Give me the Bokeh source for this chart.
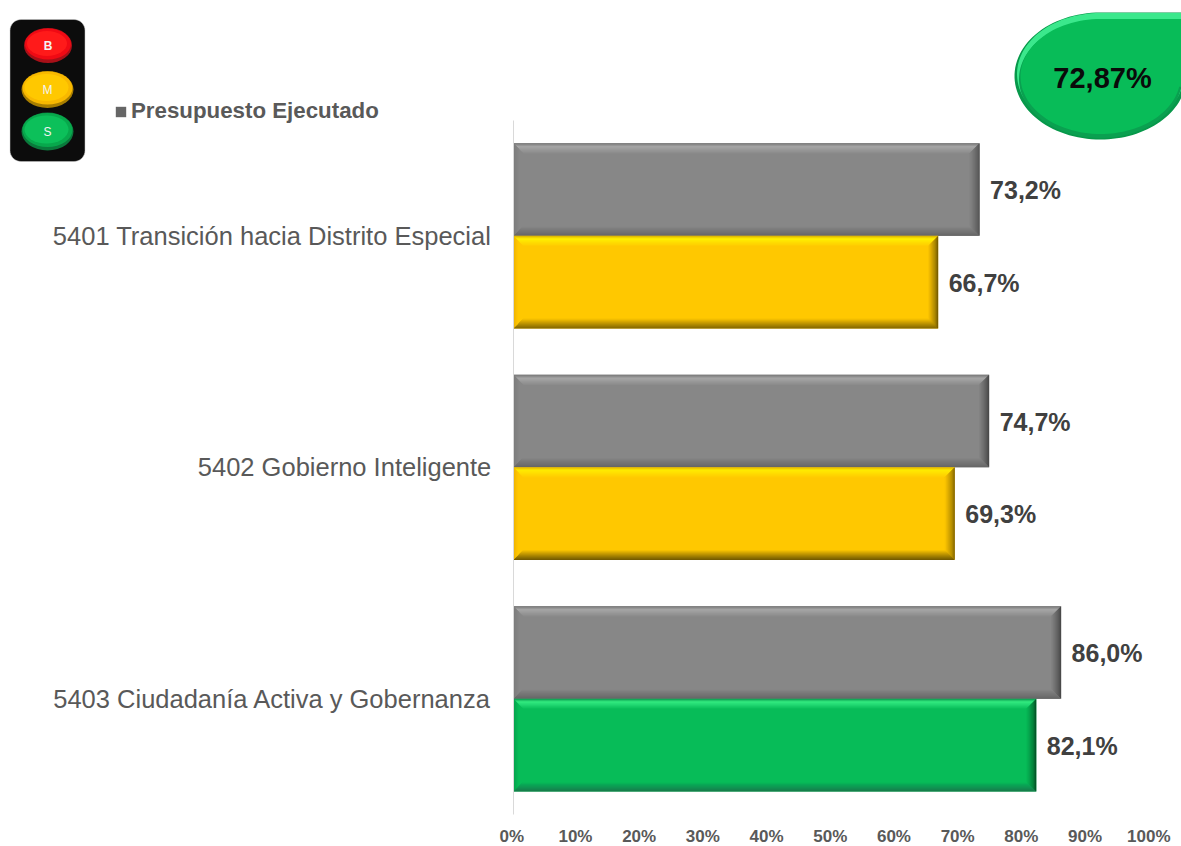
import numpy as np
from bokeh.embed import file_html
from bokeh.resources import INLINE
from bokeh.plotting import figure
from bokeh.models import (ColumnDataSource, FixedTicker, PrintfTickFormatter,
                          Legend, LegendItem, Range1d)
from bokeh.core.properties import value

# ---------- data ----------
categories = ["5401 Transición hacia Distrito Especial",
              "5402 Gobierno Inteligente",
              "5403 Ciudadanía Activa y Gobernanza"]
presupuesto = [73.2, 74.7, 86.0]
avance = [66.7, 69.3, 82.1]
avance_tone = ["yellow", "yellow", "green"]
x_ticks = [0, 10, 20, 30, 40, 50, 60, 70, 80, 90, 100]
legend_label = "Presupuesto Ejecutado"
total_label = "72,87%"
light_letters = ["B", "M", "S"]

# ---------- geometry of the canvas (page pixels) ----------
W, H = 1181, 846
PX_PER_PCT = 6.37
PX_PER_CAT = 231.5
X0_PX, Y0_PX = 512.8, 235.3
AXIS_BOTTOM_PX = 815
FONT = "Liberation Sans"


def X(px):
    return (np.asarray(px, dtype=float) - X0_PX) / PX_PER_PCT


def Y(py):
    return (np.asarray(py, dtype=float) - Y0_PX) / PX_PER_CAT


p = figure(width=W, height=H, output_backend="svg", toolbar_location=None,
           x_range=(float(X(0)), float(X(W))),
           y_range=(float(Y(H)), float(Y(0))),
           min_border_left=0, min_border_right=0, min_border_top=0,
           min_border_bottom=0, background_fill_color="white",
           border_fill_color="white")
p.outline_line_color = None
p.grid.visible = False

# ---------- axes ----------
pos = list(range(len(categories)))
ya = p.yaxis[0]
ya.fixed_location = 0
ya.ticker = FixedTicker(ticks=pos)
ya.major_label_overrides = {i: c for i, c in zip(pos, categories)}
ya.bounds = (-0.497, 2.5)
ya.axis_line_color = "#d9d9d9"
ya.major_tick_line_color = None
ya.minor_tick_line_color = None
ya.major_tick_out = 0
ya.major_tick_in = 0
ya.major_label_standoff = 22
ya.major_label_text_font = FONT
ya.major_label_text_font_size = "25.5px"
ya.major_label_text_color = "#595959"

# the reference's tick labels sit about 1.5 px left of the true positions
p.extra_x_ranges["tick_labels"] = Range1d(float(X(0)) + 0.24, float(X(W)) + 0.24)
xa = p.xaxis[0]
xa.x_range_name = "tick_labels"
xa.fixed_location = float(Y(AXIS_BOTTOM_PX))
xa.ticker = FixedTicker(ticks=x_ticks)
xa.formatter = PrintfTickFormatter(format="%d%%")
xa.axis_line_color = None
xa.major_tick_line_color = None
xa.minor_tick_line_color = None
xa.major_tick_out = 0
xa.major_tick_in = 0
xa.major_label_standoff = 11
xa.major_label_text_font = FONT
xa.major_label_text_font_size = "17px"
xa.major_label_text_font_style = "bold"
xa.major_label_text_color = "#595959"

# ---------- bars with bevels ----------
BASE = {"gray": "#878787", "yellow": "#ffc800", "green": "#07bc58"}
# colour stops of each bevel: (pixels from the outer edge, colour)
STOPS = {
    "gray": dict(
        top=[(0, "#6f6f6f"), (3.5, "#adadad"), (6, "#a0a0a0"), (10, "#8c8c8c")],
        right=[(0, "#454545"), (3, "#5e5e5e"), (7, "#767676"), (10, "#858585")],
        bottom=[(0, "#5c5c5c"), (3, "#6a6a6a"), (7, "#7a7a7a"), (9, "#868686")],
        left=[(0, "#7a7a7a"), (3, "#808080"), (5, "#858585")]),
    "yellow": dict(
        top=[(0, "#d8aa00"), (3, "#fff200"), (6, "#ffe000"), (10, "#ffcc00")],
        right=[(0, "#6a5200"), (3, "#a88400"), (7, "#dcaa00"), (10, "#fec700")],
        bottom=[(0, "#6e5600"), (3, "#967600"), (7, "#d0a200"), (10, "#fcc600")],
        left=[(0, "#e8ae00"), (3, "#f8bc00"), (5, "#ffc800")]),
    "green": dict(
        top=[(0, "#07944a"), (3, "#33ea80"), (6, "#22d872"), (10, "#09be5a")],
        right=[(0, "#053d1d"), (3, "#067a38"), (7, "#07a24c"), (10, "#07ba57")],
        bottom=[(0, "#1a7045"), (3, "#148650"), (7, "#0aa555"), (9, "#07ba57")],
        left=[(0, "#079c4c"), (3, "#07ac52"), (5, "#07bb57")]),
}


def mix(stops, d):
    ds = [s[0] for s in stops]
    rgb = [[int(s[1][k:k+2], 16) for s in stops] for k in (1, 3, 5)]
    return "#%02x%02x%02x" % tuple(int(round(np.interp(d, ds, c))) for c in rgb)


def bevel(x1, y0, y1, tone):
    """Graded trapezoid bands round the bar 0..x1, y0..y1 (y grows downwards)."""
    xs, ys, cs = [], [], []
    dx, dy = 1 / PX_PER_PCT, 1 / PX_PER_CAT
    for side, stops in STOPS[tone].items():
        width = stops[-1][0]
        for a in range(int(width)):
            b = a + 1.15 if a + 1 < width else a + 1
            c = mix(stops, a + 0.5)
            if side == "top":
                qx = [a*dx, x1-a*dx, x1-b*dx, b*dx]
                qy = [y0+a*dy, y0+a*dy, y0+b*dy, y0+b*dy]
            elif side == "bottom":
                qx = [a*dx, x1-a*dx, x1-b*dx, b*dx]
                qy = [y1-a*dy, y1-a*dy, y1-b*dy, y1-b*dy]
            elif side == "right":
                qx = [x1-a*dx, x1-a*dx, x1-b*dx, x1-b*dx]
                qy = [y0+a*dy, y1-a*dy, y1-b*dy, y0+b*dy]
            else:
                qx = [a*dx, a*dx, b*dx, b*dx]
                qy = [y0+a*dy, y1-a*dy, y1-b*dy, y0+b*dy]
            xs.append(qx)
            ys.append(qy)
            cs.append(c)
    return xs, ys, cs


BAR_H = 0.4
gray_src = ColumnDataSource(dict(left=[0]*3, right=presupuesto,
                                 top=[i-BAR_H for i in pos], bottom=list(pos),
                                 color=[BASE["gray"]]*3))
tone_src = ColumnDataSource(dict(left=[0]*3, right=avance,
                                 top=list(pos), bottom=[i+BAR_H for i in pos],
                                 color=[BASE[t] for t in avance_tone]))
p.quad(left="left", right="right", top="top", bottom="bottom",
       fill_color="color", line_color=None, source=gray_src)
p.quad(left="left", right="right", top="top", bottom="bottom",
       fill_color="color", line_color=None, source=tone_src)

bx, by, bc = [], [], []
for i in pos:
    for part in (bevel(presupuesto[i], i-BAR_H, i, "gray"),
                 bevel(avance[i], i, i+BAR_H, avance_tone[i])):
        bx += part[0]
        by += part[1]
        bc += part[2]
p.patches(bx, by, fill_color=bc, line_color=None)

# ---------- value labels ----------
fmt = lambda v: f"{v:.1f}".replace(".", ",") + "%"
p.text(presupuesto, [i-BAR_H/2+0.8/PX_PER_CAT for i in pos], text=[fmt(v) for v in presupuesto],
       x_offset=10.5, text_font=value(FONT), text_font_size="25px", text_font_style="bold",
       text_color="#404040", text_baseline="middle", text_align="left")
p.text(avance, [i+BAR_H/2+0.5/PX_PER_CAT for i in pos], text=[fmt(v) for v in avance],
       x_offset=10.5, text_font=value(FONT), text_font_size="25px", text_font_style="bold",
       text_color="#404040", text_baseline="middle", text_align="left")

# ---------- legend ----------
swatch = p.quad(left=[0], right=[0], top=[0], bottom=[0], fill_color="#666666", line_color=None)
legend = Legend(items=[LegendItem(label=legend_label, renderers=[swatch])],
                location=(114, H - 124), orientation="vertical",
                background_fill_alpha=0, border_line_color=None,
                padding=0, margin=0, glyph_width=13, glyph_height=13,
                label_standoff=4, label_text_font=FONT,
                label_text_font_size="22.3px", label_text_font_style="bold",
                label_text_color="#595959", label_height=22)
p.add_layout(legend, "center")


# ---------- traffic light ----------
def round_rect(x0, y0, x1, y1, r):
    t = np.linspace(0, np.pi/2, 10)
    px = np.r_[x1-r+r*np.sin(t), x1-r+r*np.cos(t), x0+r-r*np.sin(t), x0+r-r*np.cos(t)]
    py = np.r_[y0+r-r*np.cos(t), y1-r+r*np.sin(t), y1-r+r*np.cos(t), y0+r-r*np.sin(t)]
    return X(px), Y(py)


bxs, bys = round_rect(9.5, 19, 84.5, 161, 11)
p.patch(bxs, bys, fill_color="#0c0c0c", line_color="#c8c8c8", line_width=0.5)


def oval(cx, cy, rx, ry, color):
    p.ellipse(float(X(cx)), float(Y(cy)), width=2*rx/PX_PER_PCT, height=2*ry/PX_PER_CAT,
              fill_color=color, line_color=None)


LIGHTS = [
    (47.5, 45, 24, 17.5, ["#a81018", "#f00a14", "#ff1a1a"], "bold"),
    (47, 89, 26, 18.5, ["#a87e00", "#f8b800", "#ffc800"], "normal"),
    (47, 131, 26, 19, ["#0a7a3c", "#08a84c", "#0cc05a"], "normal"),
]
for (cx, cy, rx, ry, cols, style), letter in zip(LIGHTS, light_letters):
    oval(cx, cy, rx, ry, cols[0])
    oval(cx, cy-1.5, rx-1, ry-2, cols[1])
    oval(cx-1, cy-2, rx-4, ry-5, cols[2])
    p.text([float(X(cx))], [float(Y(cy))], text=[letter], text_font=value(FONT),
           text_font_size="12px", text_font_style=style, text_color="#f4f4f4",
           text_align="center", text_baseline="middle")


# ---------- total badge ----------
def badge(inset, dy):
    cx, cy = 1100, 75.5 + dy
    rx, ry = 86 - inset, 63.5 - inset
    t = np.linspace(np.pi/2, 3*np.pi/2, 60)        # left half, y down
    lx, ly = cx + rx*np.cos(t), cy + ry*np.sin(t)
    t2 = np.linspace(np.pi/2, 0.18, 30)            # lower right
    rx2, ry2 = cx + rx*np.cos(t2), cy + ry*np.sin(t2)
    px = np.r_[rx2[::-1], lx, [1190, 1190]]
    py = np.r_[ry2[::-1], ly, [cy - ry, float(ry2[-1])]]
    return X(px), Y(py)


for inset, dy, col in [(0, 0, "#07984a"), (2.5, -2, "#3be88c"), (4.5, 3, "#0aa050"),
                       (6, 0.5, "#08bc58")]:
    bx_, by_ = badge(inset, dy)
    p.patch(bx_, by_, fill_color=col, line_color=None)
p.text([float(X(1102))], [float(Y(77))], text=[total_label], text_font=value(FONT),
       text_font_size="29px", text_font_style="bold", text_color="#0a0a0a",
       text_align="center", text_baseline="middle")

open("out.html", "w").write(file_html(p, INLINE))
